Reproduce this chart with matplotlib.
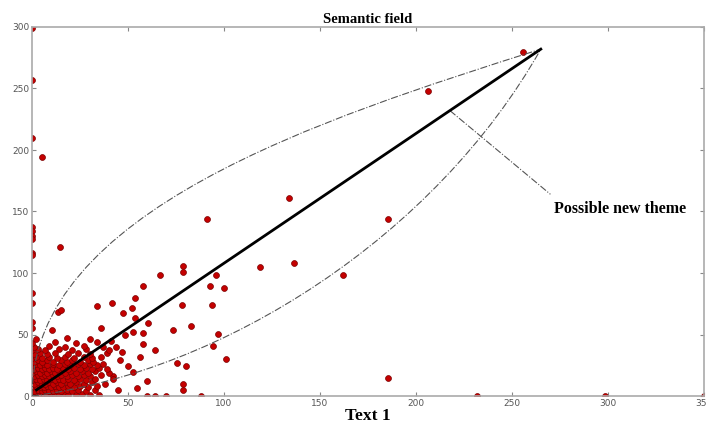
import matplotlib
matplotlib.use("Agg")
import matplotlib.pyplot as plt
from matplotlib.path import Path
from matplotlib.patches import PathPatch

# scatter points (Text 1, Text 2)
cluster_pts = [
    (0, 1), (2, 1), (4, 2), (6, 1), (8, 1), (10, 2), (12, 1), (14, 1), (17, 2), (19, 1), (23, 1), (26, 2), (30, 1), (35, 1),
    (1, 4), (3, 5), (5, 4), (7, 5), (9, 4), (11, 4), (13, 5), (15, 4), (18, 5), (21, 4), (24, 5), (28, 4), (33, 5),
    (0, 7), (2, 8), (4, 7), (6, 7), (8, 8), (10, 7), (12, 8), (14, 7), (16, 7), (19, 8), (22, 7), (25, 8), (29, 7), (34, 8),
    (1, 10), (3, 11), (5, 10), (7, 10), (9, 11), (11, 10), (13, 11), (15, 10), (18, 11), (20, 10), (23, 11), (27, 10), (31, 11), (38, 10),
    (0, 13), (2, 14), (4, 13), (6, 14), (8, 13), (10, 14), (12, 13), (14, 14), (16, 13), (19, 14), (22, 13), (25, 14), (28, 13), (33, 14),
    (1, 16), (3, 17), (5, 16), (7, 17), (9, 16), (11, 17), (13, 16), (15, 17), (18, 16), (21, 17), (24, 16), (27, 17), (30, 16), (36, 17), (42, 16),
    (0, 19), (2, 20), (4, 19), (6, 20), (8, 19), (10, 20), (12, 19), (14, 20), (17, 19), (20, 20), (23, 19), (26, 20), (29, 19), (33, 20), (40, 19),
    (1, 22), (3, 23), (5, 22), (7, 23), (9, 22), (11, 23), (13, 22), (16, 23), (19, 22), (22, 23), (25, 22), (28, 23), (31, 22), (35, 23), (39, 22),
    (0, 25), (2, 26), (4, 25), (6, 26), (8, 25), (11, 26), (14, 25), (17, 26), (20, 25), (24, 26), (27, 25), (30, 26), (34, 25), (37, 26),
    (1, 28), (3, 29), (5, 28), (8, 29), (11, 28), (15, 29), (18, 28), (21, 29), (25, 28), (29, 29), (32, 28),
    (0, 31), (2, 32), (5, 31), (9, 32), (13, 31), (17, 32), (22, 31), (27, 32), (31, 31), (36, 32),
    (1, 34), (4, 35), (8, 34), (12, 35), (19, 34), (24, 35), (30, 34), (39, 35),
    (0, 37), (3, 38), (7, 37), (14, 38), (21, 37), (28, 38), (40, 37),
    (1, 40), (9, 41), (17, 40), (27, 41), (37, 40),
    (0, 43), (12, 44), (23, 43), (34, 44),
    (2, 46), (18, 47), (30, 46), (41, 45),
]

spread_pts = [
    (91, 144), (14.6, 121), (66.7, 98.6), (78.8, 106), (78.8, 100.5), (96, 98.6),
    (92.7, 89.6), (100, 88), (58, 89.6), (53.6, 80), (41.5, 75.5), (33.7, 73),
    (52, 71.5), (13.6, 68.6), (15, 70), (78, 74), (93.5, 74), (47.6, 67.6),
    (53.6, 63.6), (60.6, 59.5), (36, 55.6), (10.4, 53.8), (73.6, 53.8), (83, 57),
    (58, 51), (97, 50.5), (94.5, 40.8), (101, 30), (75.4, 27), (80, 24.5),
    (78.6, 10), (78.6, 5), (64, 37.5), (58, 42), (52.8, 52), (48.5, 49.6),
    (56, 31.8), (52.8, 19.6), (45.8, 29), (64, 0), (54.5, 6.5), (45, 5),
    (60, 0), (70, 0), (88, 0), (44, 40), (47, 36), (50, 24), (42, 14), (60, 12),
    (255.7, 279.6), (206, 248), (134, 161), (185.4, 144.3), (185.4, 14.7),
    (136.5, 108.5), (119, 105), (162, 98.6), (232, 0), (298.4, 0), (350, 0),
]

axis_pts = [
    (0, 299), (0, 257), (0, 210), (5, 194), (0, 137), (0, 134), (0, 130),
    (0, 128), (0, 116.5), (0, 115), (0, 84), (0, 76), (0, 60), (0, 55),
]

# hand-drawn lines of the figure
trend_start = (2.4, 5)
tip = (265, 282)
upper_ctrl = [(0, 0), (0, 150), (150, 225), tip]
lower_ctrl = [(0, 0), (100, 20), (210, 130), tip]
pointer = [(217.7, 232), (270, 164)]

xticks = [0, 50, 100, 150, 200, 250, 300, 350]
yticks = [0, 50, 100, 150, 200, 250, 300]

fig = plt.figure(figsize=(7.07, 4.23), dpi=100)
ax = fig.add_axes([32 / 707, 27 / 423, 672 / 707, 369 / 423])

pts = cluster_pts + spread_pts + axis_pts
ax.scatter([p[0] for p in pts], [p[1] for p in pts], s=18, c="#c40000",
           edgecolors="#7a0000", linewidths=0.5, zorder=2)

for ctrl in (upper_ctrl, lower_ctrl):
    path = Path(ctrl, [Path.MOVETO, Path.CURVE4, Path.CURVE4, Path.CURVE4])
    ax.add_patch(PathPatch(path, fill=False, ec="#555555", lw=0.8, ls="-.", zorder=3))

ax.plot([trend_start[0], tip[0]], [trend_start[1], tip[1]], color="black", lw=2, zorder=4)
ax.plot([pointer[0][0], pointer[1][0]], [pointer[0][1], pointer[1][1]],
        color="#555555", lw=0.8, ls="-.", zorder=3)
ax.text(272, 152, "Possible new theme", family="Liberation Serif",
        fontweight="bold", fontsize=11.5, va="center", ha="left")

ax.set_xlim(0, 350)
ax.set_ylim(0, 300)
ax.set_xticks(xticks)
ax.set_yticks(yticks)
ax.tick_params(direction="in", length=3, colors="#888888", labelsize=6.5,
               labelcolor="#555555", top=True, right=True, pad=2)
for s in ax.spines.values():
    s.set_color("#aaaaaa")
    s.set_linewidth(1.2)

ax.set_title("Semantic field", family="Liberation Serif", fontweight="bold",
             fontsize=10.5, pad=3)
ax.set_xlabel("Text 1", family="Liberation Serif", fontweight="bold",
              fontsize=12.5, labelpad=0)

fig.savefig("out.png", dpi=100)
